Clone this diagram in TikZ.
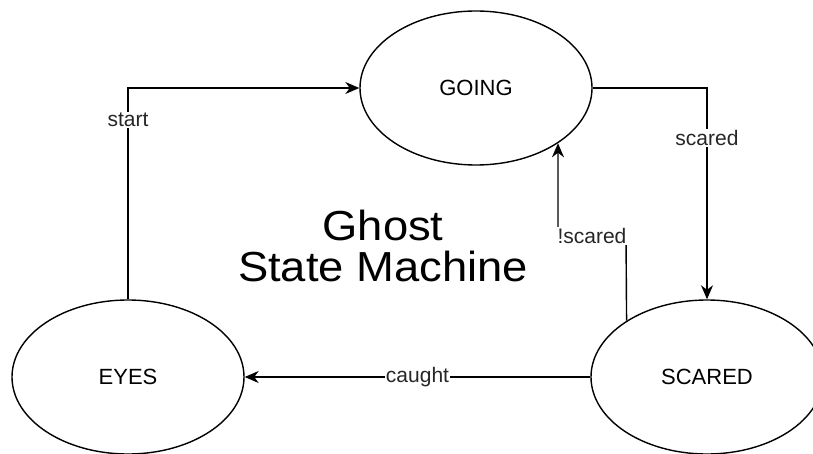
\documentclass[tikz,border=0pt]{standalone}
\usepackage{fontspec}
\setmainfont{Liberation Sans}
\usetikzlibrary{shapes.geometric,arrows.meta}

\tikzset{
  state/.style={ellipse, draw=black, line width=1.4pt, fill=white,
    minimum width=232pt, minimum height=154pt, inner sep=0pt,
    font=\fontsize{22}{26}\selectfont},
  trans/.style={draw=black, line width=1.4pt,
    -{Stealth[length=14pt,width=12pt,inset=4.5pt]}},
  tlabel/.style={fill=white, inner sep=1pt, text=black!85,
    font=\fontsize{21}{25}\selectfont},
  title/.style={align=center, font=\fontsize{42}{41}\selectfont}
}

\begin{document}
\begin{tikzpicture}[x=1pt, y=-1pt]
  \clip (0,0) rectangle (813,454);
  \fill[white] (0,0) rectangle (813,454);

  % states
  \node[state] (going)  at (476,88)  {GOING};
  \node[state] (scared) at (707,377) {SCARED};
  \node[state] (eyes)   at (128,377) {EYES};

  % title
  \node[title] (ttl) at (383,246) {\scalebox{1.08}[1]{Ghost}\\\scalebox{1.08}[1]{State Machine}};

  % transitions
  \draw[trans] (eyes.north) |- node[tlabel, pos=0.425] {start} (going.west);
  \draw[trans] (going.east) -| node[tlabel, pos=0.618] {scared} (scared.north);
  \coordinate (bend) at (626,236);
  \draw[trans] (scared.145.8) -- (bend) -| node[tlabel, pos=0.25] {!scared} (going.-34.7);
  \draw[trans] (scared.west) -- node[tlabel] {caught} (eyes.east);
\end{tikzpicture}
\end{document}
